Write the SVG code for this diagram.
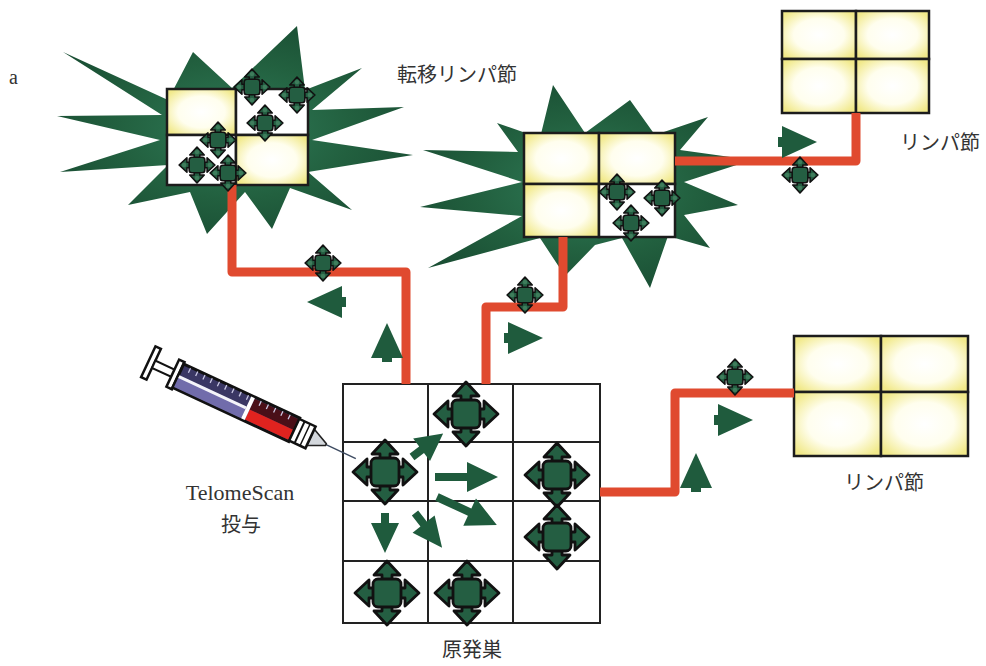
<svg xmlns="http://www.w3.org/2000/svg" xmlns:xlink="http://www.w3.org/1999/xlink" width="986" height="666" viewBox="0 0 986 666">
  <style>
    .txt { font-family: "Liberation Serif", "Noto Sans CJK JP", serif; fill: #333; }
    .jp { font-size: 20px; }
    .star { fill: url(#starFill); }
    .node rect { stroke: #1c1c1c; stroke-width: 2.5; }
    .lit { fill: url(#nodeFill); }
    .blank { fill: #fff; }
    .grid rect { fill: #fff; stroke: #222; stroke-width: 2; }
    .grid line { stroke: #222; stroke-width: 2; }
    .vessel { fill: none; stroke: #e04a2f; stroke-width: 9; stroke-linejoin: round; stroke-linecap: butt; }
    .cell { fill: #245e42; stroke: #111; stroke-width: 2.8; stroke-linejoin: round; }
    .dot { fill: #3f7d5c; stroke: none; }
    .flow { fill: #1f5b3d; }
  </style>
  <defs>
    <radialGradient id="nodeFill" cx="0.5" cy="0.5" r="0.62">
      <stop offset="0" stop-color="#ffffff"/>
      <stop offset="0.55" stop-color="#fffeee"/>
      <stop offset="1" stop-color="#f1e98a"/>
    </radialGradient>
    <radialGradient id="starFill" cx="0.5" cy="0.5" r="0.55">
      <stop offset="0" stop-color="#2f7b58"/>
      <stop offset="0.6" stop-color="#22603f"/>
      <stop offset="1" stop-color="#1a4f34"/>
    </radialGradient>
    <!-- tumour cell: rounded body with four outward arrowheads -->
    <g id="cell" class="cell">
      <path d="M-5,-12 V-18 H-13 L0,-32 L13,-18 H5 V-12 Z"/>
      <path d="M-5,12 V18 H-13 L0,32 L13,18 H5 V12 Z"/>
      <path d="M-12,-5 H-18 V-13 L-32,0 L-18,13 V5 H-12 Z"/>
      <path d="M12,-5 H18 V-13 L32,0 L18,13 V5 H12 Z"/>
      <rect x="-14" y="-14" width="28" height="28" rx="5"/>
    </g>
    <g id="cellS">
      <use xlink:href="#cell"/>
      <circle class="dot" cx="0" cy="-23" r="4"/>
      <circle class="dot" cx="0" cy="23" r="4"/>
      <circle class="dot" cx="-23" cy="0" r="4"/>
      <circle class="dot" cx="23" cy="0" r="4"/>
    </g>
    <!-- small direction marker, tip at origin, pointing +x -->
    <g id="dir" class="flow">
      <polygon points="-35,-16 -35,16 0,0"/>
      <rect x="-39" y="-5" width="5" height="10"/>
    </g>
  </defs>

  <!-- panel letter -->
  <text class="txt" x="9" y="84" font-size="20" fill="#555">a</text>

  <!-- metastatic lymph node (left) -->
  <g id="metastatic-node-1">
    <polygon class="star" points="63,52 168,100 193,52 232,88 297,26 305,90 362,68 312,110 404,107 312,140 413,155 308,172 352,210 290,188 272,229 245,192 207,234 190,192 128,205 168,165 60,172 160,140 57,116 162,115"/>
    <g class="node">
      <rect class="lit" x="167" y="89" width="69" height="46"/>
      <rect class="blank" x="236" y="89" width="72" height="46"/>
      <rect class="blank" x="167" y="135" width="69" height="50"/>
      <rect class="lit" x="236" y="135" width="72" height="50"/>
    </g>
  </g>

  <!-- metastatic lymph node (centre) -->
  <g id="metastatic-node-2">
    <polygon class="star" points="423,150 518,152 497,123 540,138 553,85 585,133 630,100 655,135 708,117 680,150 752,160 684,182 738,205 684,215 710,248 668,236 650,288 622,238 595,245 565,276 540,238 428,268 522,216 420,207 522,182"/>
    <g class="node">
      <rect class="lit" x="524" y="133" width="75" height="51"/>
      <rect class="lit" x="599" y="133" width="76" height="51"/>
      <rect class="lit" x="524" y="184" width="75" height="53"/>
      <rect class="blank" x="599" y="184" width="76" height="53"/>
    </g>
  </g>

  <!-- lymph node (top right) -->
  <g id="lymph-node-top" class="node">
    <rect class="lit" x="782" y="11" width="74" height="48"/>
    <rect class="lit" x="856" y="11" width="73" height="48"/>
    <rect class="lit" x="782" y="59" width="74" height="54"/>
    <rect class="lit" x="856" y="59" width="73" height="54"/>
  </g>

  <!-- lymph node (right) -->
  <g id="lymph-node-right" class="node">
    <rect class="lit" x="794" y="336" width="87" height="56"/>
    <rect class="lit" x="881" y="336" width="87" height="56"/>
    <rect class="lit" x="794" y="392" width="87" height="64"/>
    <rect class="lit" x="881" y="392" width="87" height="64"/>
  </g>

  <!-- primary tumour grid -->
  <g id="primary-tumour" class="grid">
    <rect x="343" y="384" width="257" height="239"/>
    <line x1="428" y1="384" x2="428" y2="623"/>
    <line x1="513" y1="384" x2="513" y2="623"/>
    <line x1="343" y1="442" x2="600" y2="442"/>
    <line x1="343" y1="501" x2="600" y2="501"/>
    <line x1="343" y1="561" x2="600" y2="561"/>
  </g>

  <!-- lymphatic vessels -->
  <g id="connectors">
    <path class="vessel" d="M232,185 V272 H406 V384"/>
    <path class="vessel" d="M486,384 V307 H563 V237"/>
    <path class="vessel" d="M675,161 H856 V113"/>
    <path class="vessel" d="M600,492 H675 V393 H794"/>
  </g>

  <!-- direction markers along vessels -->
  <g id="flow-markers">
    <use xlink:href="#dir" transform="translate(307,302) rotate(180)"/>
    <use xlink:href="#dir" transform="translate(387,323) rotate(-90)"/>
    <use xlink:href="#dir" transform="translate(543,338)"/>
    <use xlink:href="#dir" transform="translate(817,142)"/>
    <use xlink:href="#dir" transform="translate(753,420)"/>
    <use xlink:href="#dir" transform="translate(696,453) rotate(-90)"/>
  </g>

  <!-- spread arrows inside the primary tumour -->
  <g id="spread-arrows" class="flow">
    <path transform="translate(412,457) rotate(-37)" d="M0,-4 L12,-4 L12,-14 L39,0 L12,14 L12,4 L0,4 Z"/>
    <path transform="translate(435,477)" d="M0,-4 L32,-4 L32,-15 L63,0 L32,15 L32,4 L0,4 Z"/>
    <path transform="translate(437,497) rotate(25)" d="M0,-4 L36,-4 L36,-15 L66,0 L36,15 L36,4 L0,4 Z"/>
    <path transform="translate(385,513) rotate(90)" d="M0,-4 L10,-4 L10,-14 L40,0 L10,14 L10,4 L0,4 Z"/>
    <path transform="translate(415,513) rotate(52)" d="M0,-4 L14,-4 L14,-14 L44,0 L14,14 L14,4 L0,4 Z"/>
  </g>

  <!-- tumour cells in the primary site -->
  <g id="primary-cells">
    <use xlink:href="#cell" transform="translate(385,472)"/>
    <use xlink:href="#cell" transform="translate(466,414)"/>
    <use xlink:href="#cell" transform="translate(557,475)"/>
    <use xlink:href="#cell" transform="translate(557,537)"/>
    <use xlink:href="#cell" transform="translate(387,593)"/>
    <use xlink:href="#cell" transform="translate(467,593)"/>
  </g>

  <!-- tumour cells in nodes and vessels -->
  <g id="migrating-cells">
    <use xlink:href="#cellS" transform="translate(252,87) scale(0.56)"/>
    <use xlink:href="#cellS" transform="translate(297,95) scale(0.56)"/>
    <use xlink:href="#cellS" transform="translate(265,123) scale(0.56)"/>
    <use xlink:href="#cellS" transform="translate(218,140) scale(0.56)"/>
    <use xlink:href="#cellS" transform="translate(197,165) scale(0.56)"/>
    <use xlink:href="#cellS" transform="translate(228,173) scale(0.56)"/>
    <use xlink:href="#cellS" transform="translate(617,192) scale(0.56)"/>
    <use xlink:href="#cellS" transform="translate(662,198) scale(0.56)"/>
    <use xlink:href="#cellS" transform="translate(631,223) scale(0.56)"/>
    <use xlink:href="#cellS" transform="translate(323,263) scale(0.56)"/>
    <use xlink:href="#cellS" transform="translate(525,295) scale(0.56)"/>
    <use xlink:href="#cellS" transform="translate(800,175) scale(0.56)"/>
    <use xlink:href="#cellS" transform="translate(735,377) scale(0.56)"/>
  </g>

  <!-- syringe -->
  <g id="syringe" transform="translate(151,363) rotate(25)">
    <line x1="192" y1="0" x2="226" y2="0" stroke="#3c4a60" stroke-width="1.4"/>
    <polygon points="176,-9 176,9 193,1 193,-1" fill="#d3d7dc" stroke="#222" stroke-width="1.5"/>
    <rect x="-3" y="-17" width="6" height="34" fill="#fff" stroke="#111" stroke-width="2.5"/>
    <rect x="3" y="-4" width="22" height="8" fill="#fff" stroke="#111" stroke-width="2"/>
    <rect x="24" y="-15" width="6" height="30" fill="#fff" stroke="#111" stroke-width="2.5"/>
    <rect x="30" y="-13" width="128" height="26" fill="#3a3764" stroke="#111" stroke-width="3"/>
    <rect x="31" y="1" width="74" height="11" fill="#716cab"/>
    <rect x="31" y="-1" width="74" height="3" fill="#f4f4fa"/>
    <rect x="109" y="-11.5" width="48" height="12" fill="#4a0f18"/>
    <rect x="109" y="0.5" width="48" height="11" fill="#e0231f"/>
    <rect x="105" y="-12" width="4" height="24" fill="#fff"/>
    <path d="M38,-12 v5 M46,-12 v5 M54,-12 v5 M62,-12 v5 M70,-12 v5 M78,-12 v5 M86,-12 v5 M94,-12 v5 M102,-12 v5 M116,-12 v5 M124,-12 v5 M132,-12 v5 M140,-12 v5 M148,-12 v5" stroke="#c9c8e4" stroke-width="1.3"/>
    <rect x="158" y="-12" width="18" height="24" fill="#fff" stroke="#111" stroke-width="2.5"/>
    <line x1="164" y1="-12" x2="164" y2="12" stroke="#111" stroke-width="2"/>
    <line x1="170" y1="-12" x2="170" y2="12" stroke="#111" stroke-width="1.5"/>
  </g>

  <!-- labels -->
  <text class="txt jp" x="457" y="82" text-anchor="middle">転移リンパ節</text>
  <text class="txt jp" x="940" y="150" text-anchor="middle">リンパ節</text>
  <text class="txt jp" x="884" y="490" text-anchor="middle">リンパ節</text>
  <text class="txt" x="240" y="500" text-anchor="middle" font-size="22">TelomeScan</text>
  <text class="txt jp" x="241" y="532" text-anchor="middle">投与</text>
  <text class="txt jp" x="472" y="657" text-anchor="middle">原発巣</text>
</svg>
